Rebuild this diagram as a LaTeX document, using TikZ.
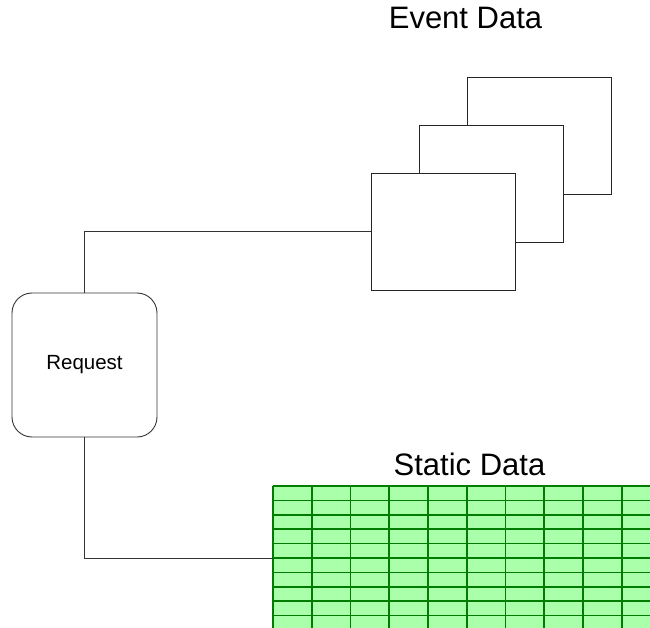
\documentclass[tikz,border=0pt]{standalone}
\usepackage{fontspec}
\setmainfont{Liberation Sans}
\usetikzlibrary{positioning}
\definecolor{gridfill}{RGB}{170,255,170}
\definecolor{gridline}{RGB}{0,125,0}

\begin{document}
\begin{tikzpicture}[x=1pt,y=-1pt,
  page/.style={draw=black!85,fill=white,line width=.9pt,minimum width=144pt,minimum height=117pt,inner sep=0pt},
  req/.style={draw=black!80,rounded corners=20pt,line width=.9pt,minimum width=145pt,minimum height=144pt,font=\fontsize{20.5}{24}\selectfont},
  title/.style={font=\fontsize{31}{36}\selectfont,inner sep=0pt},
  wire/.style={draw=black!80,line width=.8pt}]
\useasboundingbox (0,0) rectangle (650,628);
% event data pages, back to front
\node[page] (ev3) at (539,135.5) {};
\node[page] (ev2) at (491.5,183.5) {};
\node[page] (ev1) at (443,231.5) {};
\node[title,anchor=base] (evt) at (465.5,29) {Event Data};
\node[req] (req) at (84.5,365) {Request};
% static data table
\node[fill=gridfill,minimum width=387.5pt,minimum height=144pt,inner sep=0pt,anchor=north west] (sta) at (273,486) {};
\begin{scope}
\clip (0,0) rectangle (650,628);
\foreach \i in {0,...,10} \draw[gridline,line width=1.7pt] (273+\i*38.75,486) -- ++(0,144);
\foreach \j in {0,...,9} \draw[gridline,line width=1.7pt] (273,486+\j*14.4) -- ++(387.5,0);
\end{scope}
\node[title,anchor=base] (stt) at (469.5,475) {Static Data};
\draw[wire] (req.north) |- (ev1.west);
\draw[wire] (req.south) |- (sta.west);
\end{tikzpicture}
\end{document}
